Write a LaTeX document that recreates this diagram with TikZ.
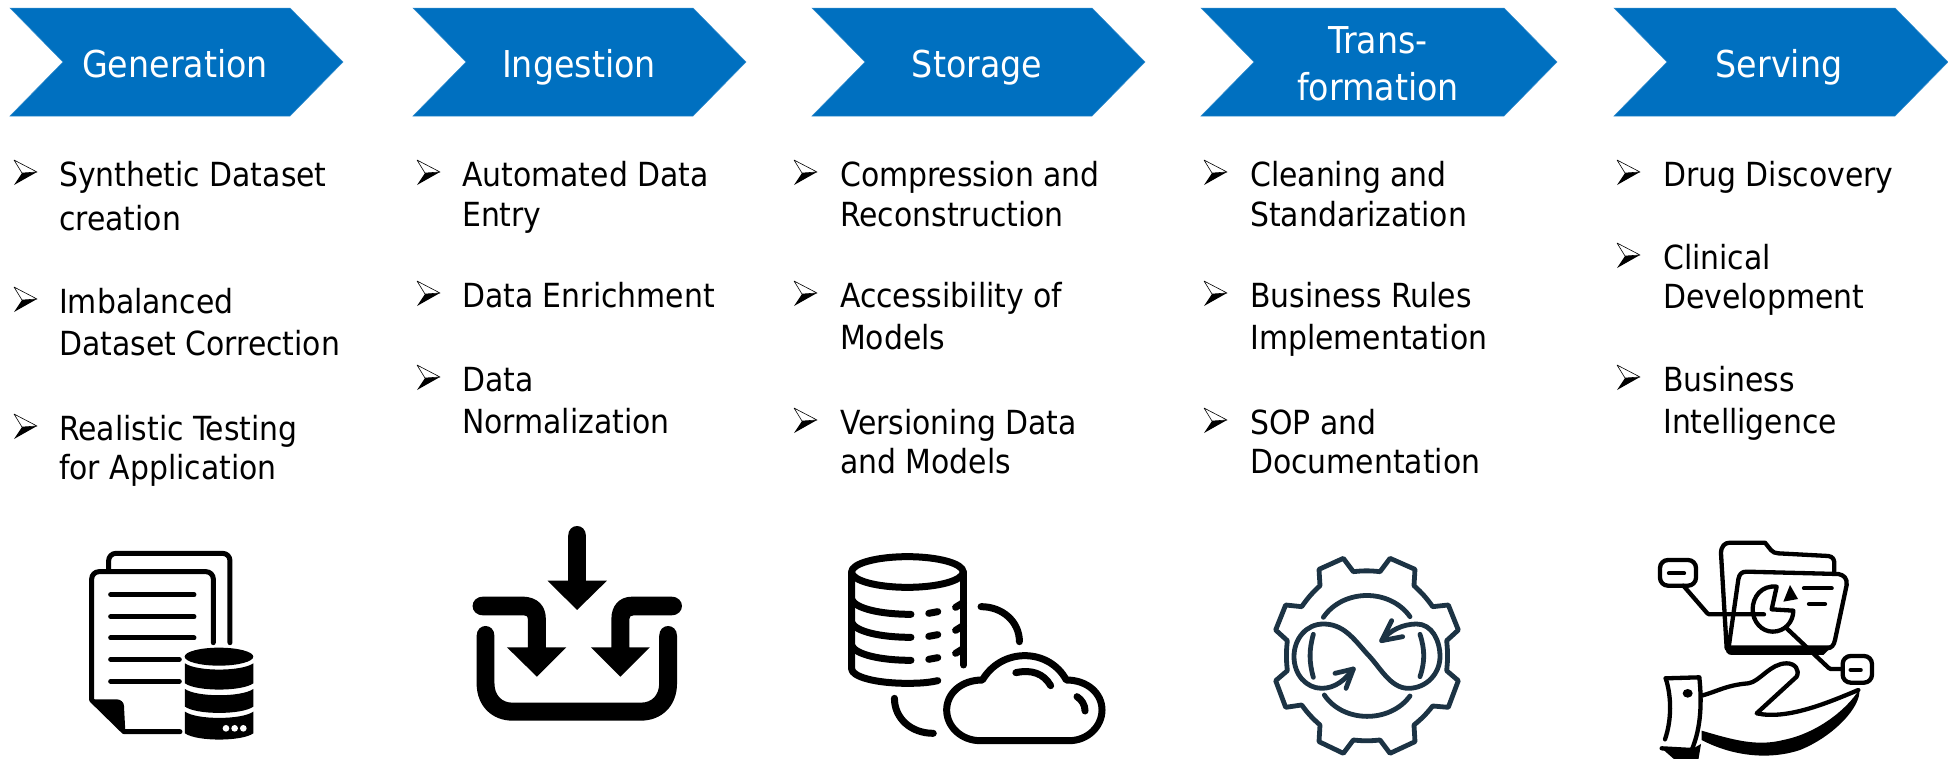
\documentclass[tikz,border=0pt]{standalone}
\usepackage{fontspec}
\setmainfont{DejaVu Sans Condensed}
\usetikzlibrary{calc}
\definecolor{chev}{HTML}{0070C0}
\definecolor{gearc}{HTML}{1C3344}
\newcommand{\chevron}[3]{% name, left x, tip x
  \fill[chev,draw=chev!80!white,line width=.5pt] (#2,8) -- (#2+53,62) -- (#2,116) -- (#3-53,116) -- (#3,62) -- (#3-53,8) -- cycle;}
\newcommand{\bul}[2]{% x, baseline
  \begin{scope}[shift={(#1,#2-26)},x=1pt,y=-1pt]
   \fill[black] (0,25) -- (23,12) -- (8,13) -- cycle;
   \draw[black,line width=.6pt,fill=white,line join=round] (0,0) -- (23,12) -- (8,13) -- cycle;
  \end{scope}}
\newcommand{\itm}[6]{% name, bullet x, text x, baseline, line gap, text
  \bul{#2}{#4}
  \node[itemtext,font={\fontsize{33.2}{#5}\selectfont}] (#1) at (#3,#4-30) {\rule{0pt}{30pt}#6};}
\tikzset{
  itemtext/.style={anchor=north west,inner sep=0pt,align=left,text=black},
  head/.style={text=white,inner sep=0pt,align=center,anchor=north,font={\fontsize{37}{47}\selectfont}},
  ic/.style={line cap=round,line join=round},
}
\begin{document}
\begin{tikzpicture}[x=1pt,y=-1pt]
\useasboundingbox (0,0) rectangle (1948,758);
\clip (0,0) rectangle (1948,758);
\fill[white] (0,0) rectangle (1948,758);
% chevrons
\chevron{a}{10}{343}
\chevron{b}{413}{746}
\chevron{c}{812}{1145}
\chevron{d}{1201}{1557}
\chevron{e}{1614}{1948}
\node[head] (h1) at (175,47) {\rule{0pt}{30pt}Generation};
\node[head] (h2) at (579,47) {\rule{0pt}{30pt}Ingestion};
\node[head] (h3) at (977,47) {\rule{0pt}{30pt}Storage};
\node[head] (h4) at (1378,23) {\rule{0pt}{30pt}Trans-\\formation};
\node[head] (h5) at (1779,47) {\rule{0pt}{30pt}Serving};
% column 1
\itm{a1}{14}{59}{186}{44}{Synthetic Dataset\\creation}
\itm{a2}{14}{59}{313}{42}{Imbalanced\\Dataset Correction}
\itm{a3}{14}{59}{440}{39}{Realistic Testing\\for Application}
% column 2
\itm{b1}{417}{462}{186}{40}{Automated Data\\Entry}
\itm{b2}{417}{462}{307}{40}{Data Enrichment}
\itm{b3}{417}{462}{391}{42}{Data\\Normalization}
% column 3
\itm{c1}{794}{840}{186}{40}{Compression and\\Reconstruction}
\itm{c2}{794}{840}{307}{42}{Accessibility of\\Models}
\itm{c3}{794}{840}{434}{39}{Versioning Data\\and Models}
% column 4
\itm{d1}{1204}{1250}{186}{40}{Cleaning and\\Standarization}
\itm{d2}{1204}{1250}{307}{42}{Business Rules\\Implementation}
\itm{d3}{1204}{1250}{434}{39}{SOP and\\Documentation}
% column 5
\itm{e1}{1617}{1663}{186}{40}{Drug Discovery}
\itm{e2}{1617}{1663}{269}{39}{Clinical\\Development}
\itm{e3}{1617}{1663}{391}{42}{Business\\Intelligence}
% icon 1
\begin{scope}[shift={(0,520)},x=.3333pt,y=-.3333pt]
 \draw[ic,line width=5pt] (326,150) -- (326,122) to[out=90,in=180] (348,100) -- (668,100) to[out=0,in=90] (690,122) -- (690,368);
 \draw[ic,line width=5pt] (640,368) -- (640,177) to[out=90,in=0] (618,155) -- (297,155) to[out=180,in=90] (275,177) -- (275,540) -- (372,635) -- (540,635);
 \fill[ic] (275,538) -- (350,538) to[out=0,in=90] (372,558) -- (376,635) -- cycle;
 \foreach \yy in {224,290,354} \draw[ic,line width=5pt] (332,\yy) -- (582,\yy);
 \foreach \yy in {418,484} \draw[ic,line width=5pt] (332,\yy) -- (538,\yy);
 \fill (657,410) ellipse [x radius=103,y radius=27];
 \fill (555,430) .. controls (590,455) and (725,455) .. (760,430) -- (760,490) .. controls (725,515) and (590,515) .. (555,490) -- cycle;
 \fill (555,507) .. controls (590,532) and (725,532) .. (760,507) -- (760,560) .. controls (725,585) and (590,585) .. (555,560) -- cycle;
 \fill (555,575) .. controls (590,600) and (725,600) .. (760,575) -- (760,640) .. controls (725,665) and (590,665) .. (555,640) -- cycle;
 \foreach \xx in {678,704,730} \fill[white] (\xx,625) circle [radius=10];
\end{scope}
% icon 2
\begin{scope}[shift={(440,510)},x=.4464pt,y=-.3333pt]
 \fill (287,78) .. controls (287,38) and (327,38) .. (327,78) -- (327,212) -- (374,212) -- (307,300) -- (241,212) -- (287,212) -- cycle;
 \fill (97,260) -- (185,260) .. controls (220,260) and (237,290) .. (237,325) -- (237,412) -- (283,412) -- (217,500) -- (150,412) -- (197,412) -- (197,328) .. controls (197,320) and (195,316) .. (188,316) -- (97,316) .. controls (65,316) and (65,260) .. (97,260) -- cycle;
 \fill (518,260) -- (430,260) .. controls (400,260) and (384,290) .. (384,325) -- (384,412) -- (338,412) -- (404,500) -- (470,412) -- (424,412) -- (424,328) .. controls (424,320) and (427,316) .. (434,316) -- (518,316) .. controls (550,316) and (550,260) .. (518,260) -- cycle;
 \fill (82,378) .. controls (82,338) and (122,338) .. (122,378) -- (122,520) .. controls (122,555) and (138,578) .. (162,578) -- (450,578) .. controls (475,578) and (491,555) .. (491,520) -- (491,378) .. controls (491,338) and (531,338) .. (531,378) -- (531,520) .. controls (531,590) and (495,632) .. (450,632) -- (162,632) .. controls (118,632) and (82,590) .. (82,520) -- cycle;
\end{scope}
% icon 3
\begin{scope}[shift={(440,510)},x=.4464pt,y=-.3333pt,ic,line width=7pt]
 \draw (1047,186) ellipse [x radius=125,y radius=46];
 \draw (922,186) -- (922,476) .. controls (922,500) and (975,520) .. (1047,520) .. controls (1075,520) and (1095,518) .. (1115,512);
 \draw (1173,186) -- (1173,465);
 \foreach \dy in {0,69,138} {
  \begin{scope}[yshift=-.3333*\dy]
  \draw (922,268) .. controls (930,295) and (985,313) .. (1055,313);
  \draw (1095,310) -- (1115,305);
  \draw (1155,292) -- (1173,277);
  \end{scope}
 }
 \draw (1212,290) .. controls (1260,290) and (1298,335) .. (1298,395);
 \draw (1018,565) .. controls (1018,625) and (1055,670) .. (1105,670);
 \draw (1215,510) .. controls (1235,465) and (1270,437) .. (1310,437) .. controls (1350,437) and (1385,465) .. (1403,510) .. controls (1450,510) and (1483,550) .. (1483,600) .. controls (1483,650) and (1450,692) .. (1410,692) -- (1210,692) .. controls (1168,692) and (1135,650) .. (1135,600) .. controls (1135,550) and (1168,510) .. (1215,510) -- cycle;
 \draw (1290,488) .. controls (1325,478) and (1352,490) .. (1368,527);
 \draw (1427,560) .. controls (1438,570) and (1445,585) .. (1445,603);
\end{scope}
% icon 4
\begin{scope}[shift={(1240,520)},x=.3333pt,y=-.3333pt,ic,line width=4.8pt,draw=gearc]
 \draw (340,155) to[bend left=6] (420,155) -- (450,115) -- (525,148) -- (522,197) to[bend left=6] (578,260) -- (625,255) -- (655,330) -- (620,362) to[bend left=6] (620,452) -- (655,482) -- (625,562) -- (578,558) to[bend left=6] (522,615) -- (525,665) -- (450,700) -- (420,660) to[bend left=6] (340,660) -- (310,700) -- (237,665) -- (240,615) to[bend left=6] (185,555) -- (137,562) -- (107,482) -- (142,452) to[bend left=6] (142,362) -- (107,330) -- (137,255) -- (185,260) to[bend left=6] (240,197) -- (237,148) -- (310,115) -- cycle;
 \draw (250,292) .. controls (310,205) and (450,205) .. (510,290);
 \draw (253,525) .. controls (310,610) and (450,610) .. (510,528);
 \draw (425,362) .. controls (450,330) and (490,312) .. (530,312) .. controls (575,312) and (600,360) .. (600,410) .. controls (600,460) and (560,505) .. (505,505) .. controls (450,505) and (420,440) .. (380,400) .. controls (340,355) and (310,312) .. (250,312) .. controls (200,312) and (162,355) .. (162,410) .. controls (162,465) and (200,505) .. (245,505) .. controls (285,505) and (315,480) .. (340,447);
 \draw (455,302) -- (425,362) -- (488,350);
 \draw (285,460) -- (340,447) -- (318,505);
 \draw (220,343) .. controls (207,390) and (207,425) .. (220,472);
 \draw (540,343) .. controls (555,390) and (555,425) .. (540,470);
\end{scope}
% icon 5
\begin{scope}[shift={(1620,520)},x=.3333pt,y=-.3333pt,ic,line width=4.3pt]
 \draw (320,385) -- (303,100) .. controls (303,78) and (315,68) .. (330,68) -- (435,68) .. controls (450,85) and (455,100) .. (475,100) -- (625,108) .. controls (638,110) and (643,118) .. (643,130) -- (643,155);
 \draw (327,375) -- (355,178) .. controls (358,162) and (365,155) .. (380,155) -- (655,162) .. controls (672,165) and (682,175) .. (680,195) -- (645,360) .. controls (642,375) and (635,385) .. (620,385);
 \fill (315,376) -- (640,376) -- (610,405) -- (335,405) .. controls (322,405) and (315,395) .. (315,376) -- cycle;
 \draw (470,200) .. controls (425,195) and (398,230) .. (398,268) .. controls (398,305) and (425,335) .. (458,335) .. controls (495,335) and (520,305) .. (520,272) -- (455,268) -- cycle;
 \fill (510,195) -- (534,237) -- (490,245) -- cycle;
 \draw (552,205) -- (635,205);
 \draw (567,252) -- (615,252);
 \draw[rounded corners=8pt] (120,120) rectangle (228,197);
 \draw (147,160) -- (192,160);
 \draw (190,197) -- (262,280) -- (268,283) -- (432,283);
 \draw[rounded corners=8pt] (668,408) rectangle (756,488);
 \draw (692,450) -- (722,450);
 \draw (500,325) -- (625,443) -- (632,447) -- (668,447);
 \draw (137,475) -- (238,472) .. controls (245,540) and (245,620) .. (215,690) -- (125,685);
 \draw (137,475) .. controls (155,530) and (155,600) .. (135,658);
 \fill (203,520) ellipse [x radius=15,y radius=13];
 \draw (245,527) .. controls (290,515) and (320,495) .. (385,490) .. controls (420,485) and (450,430) .. (500,430) .. controls (525,430) and (540,450) .. (530,470) -- (410,580) .. controls (500,600) and (620,550) .. (715,510);
 \fill (245,632) .. controls (340,660) and (410,680) .. (490,660) .. controls (590,640) and (680,570) .. (718,508) .. controls (725,560) and (640,650) .. (540,690) .. controls (450,720) and (340,710) .. (245,660) -- cycle;
 \fill (125,685) -- (215,688) -- (243,672) -- (235,720) -- (165,720) -- cycle;
\end{scope}
\end{tikzpicture}
\end{document}
